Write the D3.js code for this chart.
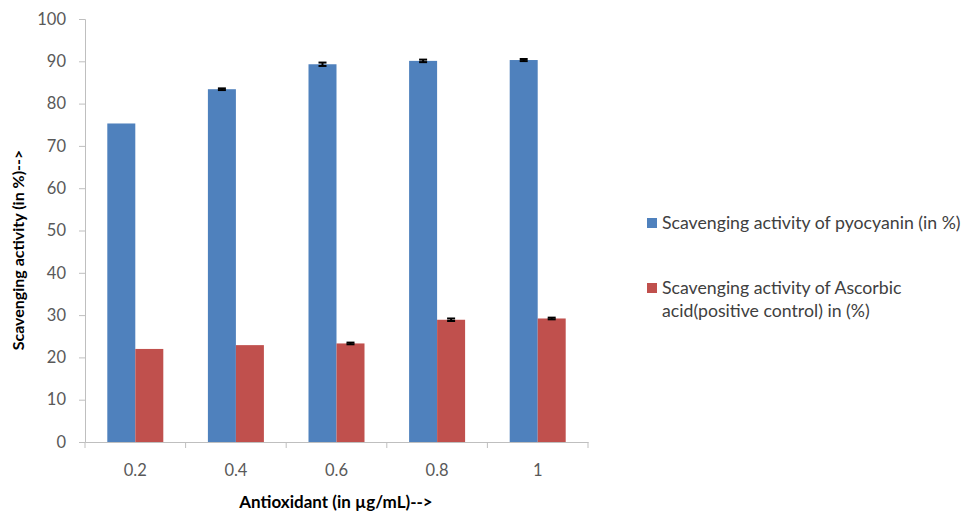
<!DOCTYPE html>
<html><head><meta charset="utf-8">
<script src="https://cdn.jsdelivr.net/npm/d3@7"></script>
<style>body{margin:0;background:#fff}svg{display:block}text{font-family:Lato,"Open Sans",sans-serif}</style>
</head><body><svg id="c" width="979" height="513"></svg>
<script>
const categories = ["0.2","0.4","0.6","0.8","1"];
const pyocyanin = [75.3, 83.4, 89.3, 90.1, 90.3];
const pyocyaninErr = [0, 0.2, 0.4, 0.3, 0.25];
const ascorbic = [22.0, 22.9, 23.3, 28.9, 29.2];
const ascorbicErr = [0, 0, 0.2, 0.3, 0.2];
const yTicks = [0,10,20,30,40,50,60,70,80,90,100];
const seriesNames = ["Scavenging activity of pyocyanin (in %)", "Scavenging activity of Ascorbic", "acid(positive control) in (%)"];
const colors = ["#4F81BD", "#C0504D"];

const svg = d3.select("#c");
const x0 = 85, x1 = 588, yTop = 19, yBot = 442;
const x = d3.scaleBand().domain(categories).range([x0, x1]).paddingInner(0).paddingOuter(0);
const xs = d3.scaleBand().domain([0,1]).range([0, 56]);
const y = d3.scaleLinear().domain([0,100]).range([yBot, yTop]);

// y axis
const ya = svg.append("g").attr("transform", `translate(${x0},0)`).call(d3.axisLeft(y).tickValues(yTicks).tickSize(6).tickPadding(13));
ya.selectAll("path,line").attr("stroke", "#bfbfbf");
ya.selectAll("text").attr("fill", "#595959").style("font-size", "16.5px").style("font-family","Lato,sans-serif");

// x axis
const xa = svg.append("g").attr("transform", `translate(0,${yBot})`).call(d3.axisBottom(x).tickSize(0).tickPadding(22));
xa.select("path").attr("stroke", "#bfbfbf");
xa.selectAll("text").attr("fill", "#595959").style("font-size", "16.5px").style("font-family","Lato,sans-serif");
const bounds = [x0].concat(categories.map(c => x(c) + x.bandwidth()));
svg.append("g").selectAll("line").data(bounds).join("line")
  .attr("x1", d => d).attr("x2", d => d).attr("y1", yBot).attr("y2", yBot + 6)
  .attr("stroke", "#bfbfbf");

const data = [pyocyanin, ascorbic];
const errs = [pyocyaninErr, ascorbicErr];
data.forEach((vals, si) => {
  const g = svg.append("g");
  const off = (x.bandwidth() - 56) / 2;
  g.selectAll("rect").data(vals).join("rect")
    .attr("x", (d, i) => x(categories[i]) + off + xs(si))
    .attr("width", xs.bandwidth())
    .attr("y", d => y(d))
    .attr("height", d => yBot - y(d))
    .attr("fill", colors[si]);
  vals.forEach((v, i) => {
    const e = errs[si][i];
    if (e <= 0) return;
    const cx = x(categories[i]) + off + xs(si) + xs.bandwidth() / 2;
    const eg = svg.append("g").attr("stroke", "#000").attr("stroke-width", 2);
    eg.append("line").attr("x1", cx).attr("x2", cx).attr("y1", y(v + e)).attr("y2", y(v - e));
    eg.append("line").attr("x1", cx - 4).attr("x2", cx + 4).attr("y1", y(v + e)).attr("y2", y(v + e));
    eg.append("line").attr("x1", cx - 4).attr("x2", cx + 4).attr("y1", y(v - e)).attr("y2", y(v - e));
  });
});

// axis titles
svg.append("text").attr("transform", "translate(24,250) rotate(-90)").attr("text-anchor", "middle")
  .attr("font-weight", "bold").attr("fill", "#000").style("font-size", "16px").text("Scavenging activity (in %)-->");
svg.append("text").attr("x", 336).attr("y", 508).attr("text-anchor", "middle")
  .attr("font-weight", "bold").attr("fill", "#000").style("font-size", "17px").text("Antioxidant (in µg/mL)-->");

// legend
const leg = svg.append("g");
leg.append("rect").attr("x", 647).attr("y", 218).attr("width", 10).attr("height", 10).attr("fill", colors[0]);
leg.append("text").attr("x", 662).attr("y", 229).attr("fill", "#404040").style("font-size", "17.7px").text(seriesNames[0]);
leg.append("rect").attr("x", 647).attr("y", 283).attr("width", 10).attr("height", 10).attr("fill", colors[1]);
leg.append("text").attr("x", 662).attr("y", 294).attr("fill", "#404040").style("font-size", "17.7px").text(seriesNames[1]);
leg.append("text").attr("x", 662).attr("y", 317).attr("fill", "#404040").style("font-size", "17.7px").text(seriesNames[2]);
</script></body></html>
